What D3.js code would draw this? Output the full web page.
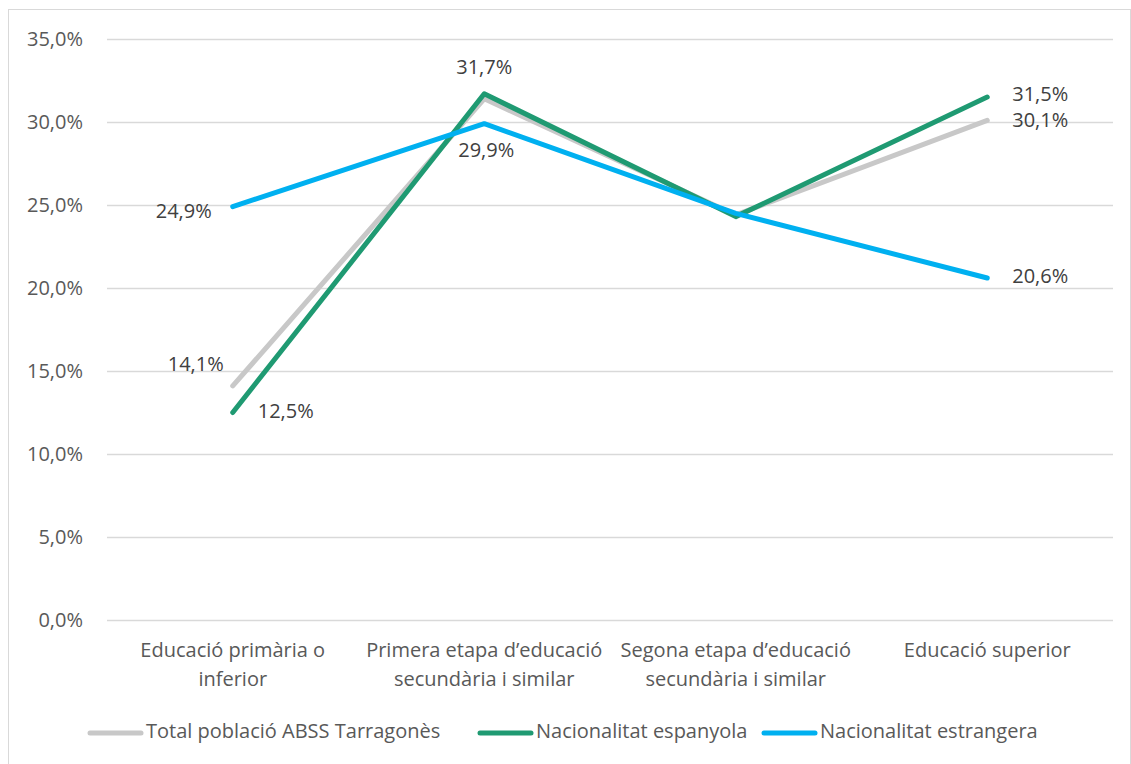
<!DOCTYPE html>
<html>
<head>
<meta charset="utf-8">
<script src="https://cdn.jsdelivr.net/npm/d3@7"></script>
<style>
  body { margin: 0; background: #fff; }
  text { font-family: "Open Sans", "Noto Sans", sans-serif; }
</style>
</head>
<body>
<svg id="chart"></svg>
<script>
// categories (two-line labels) and series values, in percent
const categories = [
  ["Educació primària o", "inferior"],
  ["Primera etapa d’educació", "secundària i similar"],
  ["Segona etapa d’educació", "secundària i similar"],
  ["Educació superior"]
]
const totalValues = [14.1, 31.4, 24.4, 30.1]
const espanyolaValues = [12.5, 31.7, 24.3, 31.5]
const estrangeraValues = [24.9, 29.9, 24.5, 20.6]
const yTicks = [0, 5, 10, 15, 20, 25, 30, 35]

const seriesNames = ["Total població ABSS Tarragonès", "Nacionalitat espanyola", "Nacionalitat estrangera"]
const seriesColors = ["#c8c8c8", "#1f9a72", "#00b0f0"]
const seriesValues = [totalValues, espanyolaValues, estrangeraValues]

// which labels are shown and where they go (dx, dy offset from the point)
const labelPlacement = [
  { idx: [0, 3], pos: [[-37, -20], [53, 1]] },
  { idx: [0, 1, 3], pos: [[53, 0], [0, -25], [53, -1]] },
  { idx: [0, 1, 3], pos: [[-49, 6], [2, 28], [53, 0]] }
]

const width = 1131, height = 764
const margin = { top: 39, left: 107, right: 18, bottom: 144 }
const fontSize = "20px"

const svg = d3.select("#chart")
  .attr("width", width)
  .attr("height", height)

// outer chart border
svg.append("rect")
  .attr("x", 8.5).attr("y", 9.5)
  .attr("width", width - 9).attr("height", height)
  .attr("fill", "none")
  .attr("stroke", "#d9d9d9")
  .attr("stroke-width", 1)

const x = d3.scalePoint()
  .domain(d3.range(categories.length))
  .range([margin.left, width - margin.right])
  .padding(0.5)

const y = d3.scaleLinear()
  .domain([0, 35])
  .range([620, margin.top])

const fmt = v => d3.format(".1f")(v).replace(".", ",") + "%"

// y axis with gridlines
const yAxis = svg.append("g")
  .attr("transform", "translate(" + margin.left + ",0)")
  .call(d3.axisLeft(y).tickValues(yTicks).tickFormat(fmt)
    .tickSize(-(width - margin.right - margin.left)).tickPadding(24))
yAxis.select(".domain").remove()
yAxis.selectAll(".tick line").attr("stroke", "#d9d9d9").attr("stroke-width", 1.5)
yAxis.selectAll(".tick text")
  .attr("fill", "#595959")
  .style("font-size", fontSize)

// x category labels
const xLabels = svg.append("g")
x.domain().forEach(function(i) {
  const t = xLabels.append("text")
    .attr("x", x(i))
    .attr("y", 657)
    .attr("text-anchor", "middle")
    .attr("fill", "#595959")
    .style("font-size", fontSize)
  categories[i].forEach(function(line, k) {
    t.append("tspan").attr("x", x(i)).attr("dy", k == 0 ? 0 : 29).text(line)
  })
})

// lines
const line = d3.line()
  .x((d, i) => x(i))
  .y(d => y(d))

seriesValues.forEach(function(vals, s) {
  svg.append("path")
    .datum(vals)
    .attr("d", line)
    .attr("fill", "none")
    .attr("stroke", seriesColors[s])
    .attr("stroke-width", 5)
    .attr("stroke-linecap", "round")
    .attr("stroke-linejoin", "round")
})

// data labels
labelPlacement.forEach(function(lp, s) {
  lp.idx.forEach(function(i, k) {
    svg.append("text")
      .attr("x", x(i) + lp.pos[k][0])
      .attr("y", y(seriesValues[s][i]) + lp.pos[k][1])
      .attr("text-anchor", "middle")
      .attr("dominant-baseline", "middle")
      .attr("fill", "#404040")
      .style("font-size", fontSize)
      .text(fmt(seriesValues[s][i]))
  })
})

// legend
const legendX = [88, 478, 762]
const legend = svg.append("g")
seriesNames.forEach(function(name, s) {
  legend.append("line")
    .attr("x1", legendX[s] + 2).attr("x2", legendX[s] + 53)
    .attr("y1", 733).attr("y2", 733)
    .attr("stroke", seriesColors[s])
    .attr("stroke-width", 5)
    .attr("stroke-linecap", "round")
  legend.append("text")
    .attr("x", legendX[s] + 58)
    .attr("y", 733)
    .attr("dominant-baseline", "middle")
    .attr("fill", "#595959")
    .style("font-size", fontSize)
    .text(name)
})
</script>
</body>
</html>
